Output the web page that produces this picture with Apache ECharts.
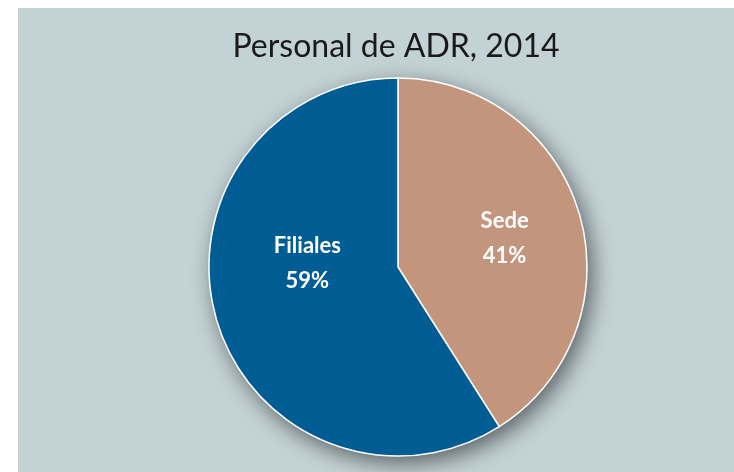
<!DOCTYPE html>
<html lang="es">
<head>
    <meta charset="UTF-8">
    <title>Personal de ADR, 2014</title>
    <style>
        html, body { margin: 0; padding: 0; background: #ffffff; }
        #main { position: absolute; left: 18px; top: 8px; width: 716px; height: 464px; background: #c3d2d5; }
    </style>
</head>
<body>
<div id="main"></div>
<script src="https://cdn.jsdelivr.net/npm/echarts@6/dist/echarts.min.js"></script>
<script>
    // datos
    var categorias = ['Sede', 'Filiales'];
    var valores = [41, 59];
    var colores = ['#c3957d', '#005d94'];

    var datos = [];
    for (var i = 0; i < categorias.length; i++) {
        datos.push({name: categorias[i], value: valores[i], itemStyle: {color: colores[i]}});
    }
    var total = valores.reduce(function (a, b) { return a + b; }, 0);

    var option = {
        animation: false,
        title: {
            text: 'Personal de ADR, 2014',
            left: 373,
            top: 18,
            textAlign: 'center',
            textStyle: {
                fontFamily: 'Lato',
                fontWeight: 'normal',
                fontSize: 32,
                color: '#1a1a1a'
            }
        },
        series: [
            {
                // sombra del circulo
                type: 'pie',
                silent: true,
                center: [380, 259],
                radius: 189,
                z: 1,
                label: {show: false},
                labelLine: {show: false},
                itemStyle: {
                    color: '#c3d2d5',
                    shadowBlur: 22,
                    shadowOffsetX: 5,
                    shadowOffsetY: 7,
                    shadowColor: 'rgba(0,0,0,0.55)'
                },
                data: [total]
            },
            {
                name: 'Personal',
                type: 'pie',
                center: [380, 259],
                radius: 189,
                startAngle: 90,
                clockwise: true,
                z: 2,
                itemStyle: {
                    borderColor: '#ffffff',
                    borderWidth: 1.5
                },
                label: {
                    show: true,
                    position: 'inside',
                    formatter: function (params) {
                        return params.name + '\n' + params.value + '%';
                    },
                    color: '#ffffff',
                    fontFamily: 'Lato',
                    fontWeight: 'bold',
                    fontSize: 22,
                    lineHeight: 35
                },
                labelLine: {show: false},
                data: datos
            }
        ]
    };
    // ajustar posicion de etiquetas
    option.series[1].data[0].label = {offset: [13, -1]};
    option.series[1].data[1].label = {offset: [3, -31]};

    var myChart = echarts.init(document.getElementById('main'));
    myChart.setOption(option);
    window.onresize = function () {
        myChart.resize();
    };
</script>
</body>
</html>
